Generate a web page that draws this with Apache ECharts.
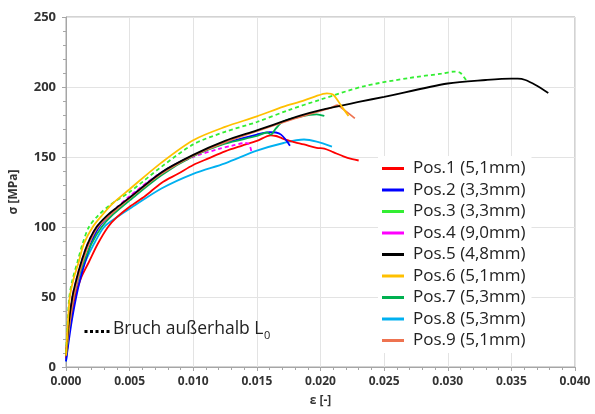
<!DOCTYPE html>
<html><head><meta charset="utf-8">
<script src="https://cdn.jsdelivr.net/npm/echarts@6/dist/echarts.min.js"></script>
<style>html,body{margin:0;padding:0;background:#fff}#c{width:595px;height:414px}</style>
</head><body><div id="c"></div>
<script>
const seriesNames = ['Pos.1 (5,1mm)','Pos.2 (3,3mm)','Pos.3 (3,3mm)','Pos.4 (9,0mm)','Pos.5 (4,8mm)','Pos.6 (5,1mm)','Pos.7 (5,3mm)','Pos.8 (5,3mm)','Pos.9 (5,1mm)'];
const seriesColors = ['#ff0000','#0000ff','#33ee33','#ff00ff','#000000','#ffc000','#00b050','#00b0f0','#ee7350'];
const dottedSeries = [false,false,true,true,false,false,false,false,false];
const xTicks = [0,0.005,0.01,0.015,0.02,0.025,0.03,0.035,0.04];
const yTicks = [0,50,100,150,200,250];

const pos1 = [[0,6],[0.0004,35],[0.0007,50],[0.0012,64],[0.0018,75],[0.0025,88],[0.0033,100],[0.004,107],[0.005,114.5],[0.0062,122],[0.0075,131.5],[0.0088,138],[0.010,144.3],[0.0112,149],[0.0125,154],[0.0138,158],[0.015,161.5],[0.0161,165.5],[0.0165,165],[0.0168,164],[0.0174,162],[0.018,160.5],[0.0187,159],[0.0197,156.5],[0.0203,156],[0.021,153.5],[0.0218,150.5],[0.0225,148.5],[0.023,147.5]];
const pos2 = [[0,4],[0.0004,30],[0.0008,50],[0.0011,62],[0.0015,75],[0.002,89],[0.0026,100],[0.0035,109],[0.005,121],[0.0075,139],[0.010,151],[0.0125,160],[0.015,166],[0.016,167.8],[0.0165,167.5],[0.0169,166],[0.0173,162],[0.0176,158]];
const pos3 = [[0,10],[0.00012,30],[0.00026,50],[0.0005,62],[0.0009,75],[0.0013,88],[0.0018,100],[0.0025,108],[0.0035,116],[0.005,125],[0.0075,143],[0.010,159],[0.0125,168],[0.015,175],[0.0175,183.5],[0.020,191],[0.0234,200.5],[0.027,206.5],[0.0295,209.5],[0.0305,211],[0.031,210],[0.0315,204]];
const pos4 = [[0,8],[0.0002,30],[0.0005,50],[0.0008,62],[0.0012,75],[0.0017,88],[0.0024,100],[0.0033,108],[0.005,122],[0.0075,139],[0.010,150],[0.0121,156],[0.013,158],[0.0141,160],[0.0144,159],[0.0146,152.5]];
const pos5 = [[0,8],[0.0002,30],[0.0005,50],[0.0008,62],[0.0012,75],[0.0017,88],[0.0024,100],[0.0032,108],[0.004,114],[0.005,121],[0.0075,139],[0.010,151.5],[0.0125,161.5],[0.015,169],[0.0184,179.5],[0.020,183.5],[0.0231,189.5],[0.025,193],[0.030,202.5],[0.033,205],[0.035,206],[0.0355,206],[0.0361,205],[0.0369,201.4],[0.0379,195.7]];
const pos6 = [[0,8],[0.00014,30],[0.0003,50],[0.0006,63],[0.001,75],[0.0014,88],[0.0021,100],[0.0028,108],[0.0037,117],[0.005,127],[0.0075,146],[0.010,162],[0.0125,171.5],[0.015,179],[0.0171,186],[0.0184,189.5],[0.0195,193],[0.0205,195.5],[0.021,194.5],[0.0216,187],[0.0222,179.3]];
const pos7 = [[0,8],[0.0003,32],[0.0006,50],[0.0009,62],[0.0014,75],[0.002,88],[0.0028,100],[0.0037,109],[0.005,119],[0.0075,137],[0.010,150.5],[0.0125,159.5],[0.015,165],[0.0158,167.5],[0.0161,166],[0.0165,170.5],[0.0171,175.5],[0.0184,178.8],[0.0197,180.5],[0.0203,179.3]];
const pos8 = [[0,4],[0.0003,30],[0.0006,50],[0.001,63],[0.0015,75],[0.0022,88],[0.003,100],[0.004,107],[0.005,113],[0.0075,127.5],[0.010,138],[0.0125,145.5],[0.015,154.5],[0.0171,160],[0.0187,162.5],[0.0197,161],[0.0209,157.4]];
const pos9 = [[0,8],[0.0003,32],[0.0006,50],[0.0009,62],[0.0013,75],[0.0018,88],[0.0025,100],[0.0034,108],[0.005,120.5],[0.0075,138],[0.010,151],[0.0125,160.5],[0.015,168.5],[0.018,177.5],[0.020,183],[0.0208,185],[0.0213,187],[0.0218,184],[0.0227,177.6]];
const allData = [pos1,pos2,pos3,pos4,pos5,pos6,pos7,pos8,pos9];

const chart = echarts.init(document.getElementById('c'), null, {renderer:'canvas'});
const font = "'Open Sans', 'Noto Sans', sans-serif";
const drawOrder = [7,0,1,3,6,8,4,2,5];
const series = drawOrder.map(i => ({
  name: seriesNames[i], type: 'line', data: allData[i], showSymbol: false, symbol: 'none',
  smooth: 0.3, z: 2,
  lineStyle: {color: seriesColors[i], width: 1.8, type: dottedSeries[i] ? [4,3] : 'solid'},
  itemStyle: {color: seriesColors[i]}
}));
chart.setOption({
  animation: false,
  backgroundColor: '#fff',
  textStyle: {fontFamily: font},
  grid: {left: 64, right: 20, top: 17, bottom: 47, show: true, borderColor: '#a6a6a6', borderWidth: 1},
  legend: {
    data: seriesNames, orient: 'vertical', left: 378, top: 156, itemGap: 4.5,
    itemWidth: 22, itemHeight: 14, backgroundColor: '#fff', padding: [4,6,4,4],
    icon: 'path://M0,6 L22,6 L22,9 L0,9 Z',
    textStyle: {fontSize: 17, color: '#222', fontFamily: font, padding: [0,0,0,4]}
  },
  xAxis: {
    type: 'value', min: 0, max: 0.04, interval: 0.005,
    name: 'ε [-]', nameLocation: 'middle', nameGap: 28,
    nameTextStyle: {fontSize: 12, fontWeight: 'bold', color: '#333', fontFamily: font},
    axisLine: {show: true, lineStyle: {color: '#a6a6a6'}},
    axisTick: {show: true, length: 4, lineStyle: {color: '#a6a6a6'}},
    minorTick: {show: true, splitNumber: 5, length: 3, lineStyle: {color: '#a6a6a6'}},
    splitLine: {show: true, lineStyle: {color: '#e3e3e3', width: 1}},
    axisLabel: {fontSize: 12, fontWeight: 'bold', color: '#333', margin: 9, formatter: v => v.toFixed(3)}
  },
  yAxis: {
    type: 'value', min: 0, max: 250, interval: 50,
    name: 'σ [MPa]', nameLocation: 'middle', nameGap: 46, nameRotate: 90,
    nameTextStyle: {fontSize: 12, fontWeight: 'bold', color: '#333', fontFamily: font},
    axisLine: {show: true, lineStyle: {color: '#a6a6a6'}},
    axisTick: {show: true, length: 4, lineStyle: {color: '#a6a6a6'}},
    minorTick: {show: true, splitNumber: 5, length: 3, lineStyle: {color: '#a6a6a6'}},
    splitLine: {show: true, lineStyle: {color: '#e3e3e3', width: 1}},
    axisLabel: {fontSize: 13, fontWeight: 'bold', color: '#333', margin: 10}
  },
  graphic: [
    {type: 'line', left: 82, top: 329, shape: {x1: 0, y1: 0, x2: 26, y2: 0}, style: {stroke: '#000', lineWidth: 3, lineDash: [3,2.5]}, z: 10},
    {type: 'text', left: 113, top: 320, z: 10, style: {text: 'Bruch außerhalb L', fill: '#222', fontSize: 17.5, fontFamily: font}},
    {type: 'text', left: 264, top: 330, z: 10, style: {text: '0', fill: '#222', fontSize: 11, fontFamily: font}}
  ],
  series: series
});
</script></body></html>
